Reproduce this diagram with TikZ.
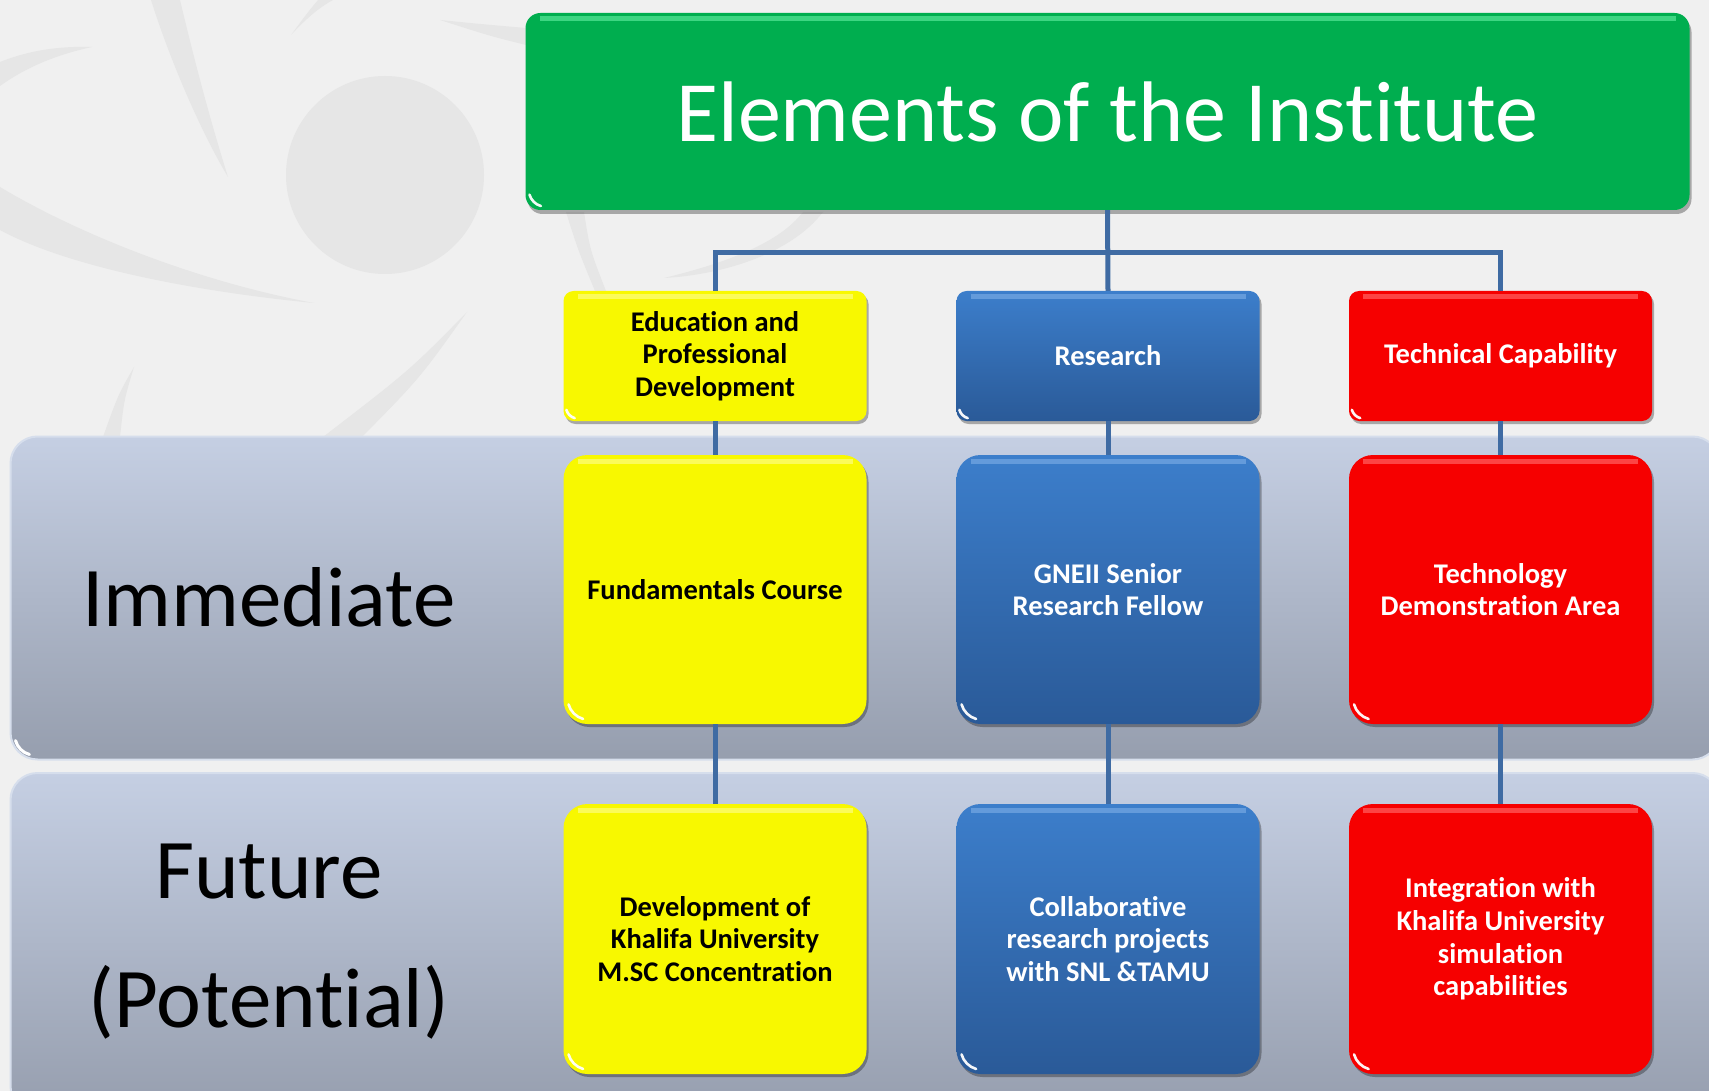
\documentclass[tikz,border=0pt]{standalone}
\usepackage{fontspec}
\setmainfont{Carlito}[RawFeature={-liga;-dlig;-clig}]
\usetikzlibrary{shadows}
\pgfdeclarelayer{back}
\pgfsetlayers{back,main}
\definecolor{bgc}{HTML}{F0F0F0}
\definecolor{swoosh}{HTML}{E6E6E6}
\definecolor{grn}{HTML}{00AE4F}
\definecolor{grnhi}{HTML}{4DE08F}
\definecolor{yel}{HTML}{F8F800}
\definecolor{yelhi}{HTML}{FCFC70}
\definecolor{bltop}{HTML}{3C7ECB}
\definecolor{blbot}{HTML}{2A5A98}
\definecolor{blhi}{HTML}{6FA3E0}
\definecolor{rd}{HTML}{F60000}
\definecolor{rdhi}{HTML}{FF5555}
\definecolor{conn}{HTML}{3F6BA3}
\definecolor{bandtop}{HTML}{C5CFE3}
\definecolor{bandbot}{HTML}{969EAE}
\definecolor{bandedge}{HTML}{D6DEEC}
\tikzset{
  x=1pt, y=-1pt,
  gloss/.style n args={2}{path picture={
    \draw[#1, line width=5pt, opacity=.8]
      ([xshift=14pt,yshift=-6pt]path picture bounding box.north west) --
      ([xshift=-14pt,yshift=-6pt]path picture bounding box.north east);
    \draw[white, line width=2.6pt, line cap=round, opacity=.95]
      ([xshift=0.18*#2,yshift=0.70*#2]path picture bounding box.south west) ..
      controls ([xshift=0.25*#2,yshift=0.45*#2]path picture bounding box.south west) and
               ([xshift=0.45*#2,yshift=0.25*#2]path picture bounding box.south west) ..
      ([xshift=0.70*#2,yshift=0.18*#2]path picture bounding box.south west);
  }},
  box/.style={draw=none, inner sep=0pt, align=center, minimum width=303pt,
    font=\fontsize{28.5}{32.7}\selectfont\bfseries,
    drop shadow={shadow xshift=2pt, shadow yshift=-3pt, opacity=.3, fill=black}},
  ybox/.style={box, fill=yel, text=black, gloss={yelhi}{#1}},
  bbox/.style={box, top color=bltop, bottom color=blbot, text=white, gloss={blhi}{#1}},
  rbox/.style={box, fill=rd, text=white, gloss={rdhi}{#1}},
  toprow/.style={minimum height=130pt, rounded corners=10pt},
  midrow/.style={minimum height=269pt, rounded corners=24pt},
  botrow/.style={minimum height=270pt, rounded corners=24pt},
  band/.style={draw=bandedge, line width=2pt, top color=bandtop, bottom color=bandbot,
    rounded corners=27pt, minimum width=1709pt, inner sep=0pt,
    path picture={
    \draw[white, line width=3pt, line cap=round]
      ([xshift=5pt,yshift=19pt]path picture bounding box.south west) ..
      controls ([xshift=7pt,yshift=12pt]path picture bounding box.south west) and
               ([xshift=12pt,yshift=7pt]path picture bounding box.south west) ..
      ([xshift=19pt,yshift=5pt]path picture bounding box.south west);}},
  link/.style={draw=conn, line width=5pt},
  lbl/.style={font=\fontsize{85}{129}\selectfont, text=black, align=center, inner sep=0pt}
}
\begin{document}
\begin{tikzpicture}
\useasboundingbox (0,0) rectangle (1709,1091);
\clip (0,0) rectangle (1709,1091);
\begin{pgfonlayer}{back}
\fill[bgc] (0,0) rectangle (1709,1091);
% decorative swooshes
\fill[swoosh] (385,175) circle (99pt);
\fill[swoosh] (0,62) .. controls (30,50) and (60,46) .. (92,47) .. controls (55,55) and (25,68) .. (0,86) -- cycle;
\fill[swoosh] (0,187) .. controls (80,235) and (200,282) .. (314,303) .. controls (200,292) and (70,268) .. (0,230) -- cycle;
\fill[swoosh] (151,0) .. controls (170,60) and (200,130) .. (228,177) .. controls (207,110) and (192,50) .. (180,0) -- cycle;
\fill[swoosh] (291,35) .. controls (305,20) and (318,8) .. (333,0) -- (318,0) .. controls (308,12) .. cycle;
\fill[swoosh] (440,20) .. controls (480,24) .. (526,28) -- (526,45) .. controls (490,36) .. cycle;
\fill[swoosh] (134,367) .. controls (118,395) .. (103,437) -- (120,437) .. controls (124,400) .. cycle;
\fill[swoosh] (467,312) .. controls (410,370) .. (323,437) -- (362,437) .. controls (420,378) .. cycle;
\fill[swoosh] (823,212) .. controls (790,255) and (720,275) .. (664,278) .. controls (730,262) and (780,242) .. (803,212) -- cycle;
\fill[swoosh] (566,212) -- (584,212) .. controls (590,250) .. (606,291) -- (595,291) .. controls (578,250) .. cycle;
% bands
\node[band, minimum height=323pt] (b1) at (865,598) {};
\node[band, minimum height=340pt] (b2) at (865,943) {};
\end{pgfonlayer}

% title
\node[draw=none, fill=grn, rounded corners=15pt, minimum width=1164pt, minimum height=197pt,
      inner sep=0pt, gloss={grnhi}{22pt}, text=white, font=\fontsize{86}{100}\selectfont,
      drop shadow={shadow xshift=2pt, shadow yshift=-4pt, opacity=.3, fill=black}]
      (title) at (1107.5,111.5) {Elements of the Institute};

% top row
\node[ybox=16pt, toprow] (edu) at (715,356) {Education and\\Professional\\Development};
\node[bbox=16pt, toprow] (res) at (1108,356) {Research};
\node[rbox=16pt, toprow] (tech) at (1500.5,356) {Technical Capability};

% middle row
\node[ybox=28pt, midrow] (fund) at (715,589.5) {Fundamentals Course};
\node[bbox=28pt, midrow] (gneii) at (1108,589.5) {GNEII Senior\\Research Fellow};
\node[rbox=28pt, midrow] (demo) at (1500.5,589.5) {Technology\\Demonstration Area};

% bottom row
\node[ybox=28pt, botrow] (msc) at (715,939) {Development of\\Khalifa University\\M.SC Concentration};
\node[bbox=28pt, botrow] (collab) at (1108,939) {Collaborative\\research projects\\with SNL \&TAMU};
\node[rbox=28pt, botrow] (integ) at (1500.5,939) {Integration with\\Khalifa University\\simulation\\capabilities};

% connectors
\coordinate (j) at (1108,253);
\draw[link] (title.south) -- (res.north);
\draw[link] (edu.north) |- (j) -| (tech.north);
\draw[link] (edu.south) -- (fund.north);
\draw[link] (res.south) -- (gneii.north);
\draw[link] (tech.south) -- (demo.north);
\draw[link] (fund.south) -- (msc.north);
\draw[link] (gneii.south) -- (collab.north);
\draw[link] (demo.south) -- (integ.north);

% row labels
\node[lbl] (imm) at (269,597) {Immediate};
\node[lbl] (fut) at (269,942) {Future\\(Potential)};
\end{tikzpicture}
\end{document}
